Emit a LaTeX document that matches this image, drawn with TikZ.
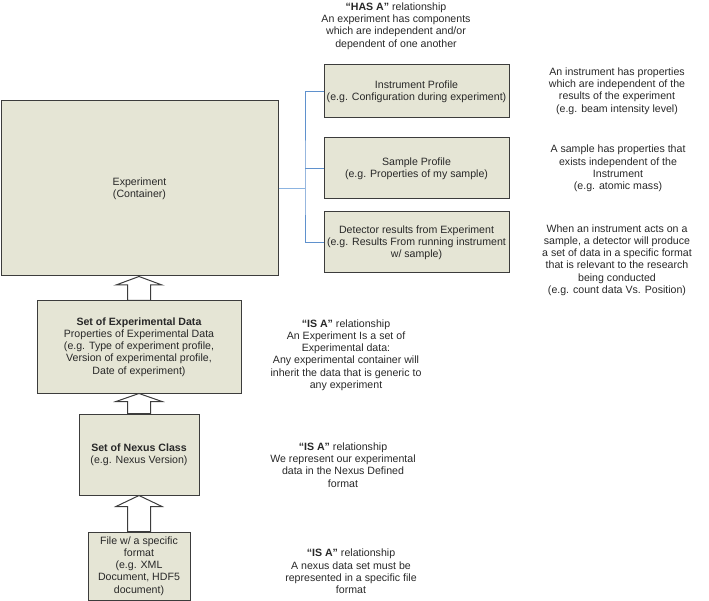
\documentclass[tikz,border=0pt]{standalone}
\usepackage{fontspec}
\setmainfont{Liberation Sans}
\usetikzlibrary{calc}
\definecolor{boxfill}{RGB}{229,229,213}
\definecolor{boxline}{RGB}{60,60,60}
\definecolor{linkblue}{RGB}{95,145,205}
\definecolor{stubblue}{RGB}{140,180,225}
\definecolor{textgray}{RGB}{40,40,40}
\tikzset{
  classbox/.style={draw=boxline, fill=boxfill, line width=1pt, inner sep=2pt, align=center, text=textgray},
  note/.style={align=center, inner sep=0pt, text=textgray},
  isarrow/.style={draw=boxline, fill=white, line width=1pt},
  hasline/.style={draw=linkblue, line width=0.8pt},
  hasstub/.style={draw=stubblue, line width=1.8pt},
}
% hollow "IS A" block arrow: upper node, lower node, head length
\newcommand\isaarrow[3]{%
  \draw[isarrow] (#2.north |- #1.south) -- ++(23,#3) -- ++(-11.5,0)
    -- ($(#2.north)+(11.5,0)$) -- ($(#2.north)+(-11.5,0)$)
    -- ($(#2.north |- #1.south)+(-11.5,#3)$) -- ++(-11.5,0) -- cycle;}

\begin{document}
\begin{tikzpicture}[x=1pt,y=-1pt,font=\fontsize{10.6}{12.2}\selectfont]
        \useasboundingbox (0,0) rectangle (709,601);
        %% container and its components
        \node[classbox, minimum width=277pt, minimum height=175pt] (expt) at (139.5,188.5) {Experiment\\(Container)};
        \node[classbox, minimum width=185pt, minimum height=53pt] (instr) at (416.5,91.5) {Instrument Profile\\(e.g. Configuration during experiment)};
        \node[classbox, minimum width=185pt, minimum height=61pt] (sample) at (416.5,168.5) {Sample Profile\\(e.g. Properties of my sample)};
        \node[classbox, minimum width=185pt, minimum height=61pt] (detect) at (416.5,242.5) {Detector results from Experiment\\(e.g. Results From running instrument\\w/ sample)};
        %% has-a links
        \coordinate (junction) at (305,188.5);
        \draw[hasstub] (expt.east) -- (junction);
        \draw[hasline] (instr.west) -| (junction) |- (detect.west);
        \draw[hasline] (sample.west) -- (sample.west -| junction);
        %% is-a chain
        \node[classbox, minimum width=204pt, minimum height=92pt] (setexp) at (139,347) {\textbf{Set of Experimental Data}\\Properties of Experimental Data\\(e.g. Type of experiment profile,\\Version of experimental profile,\\Date of experiment)};
        \node[classbox, minimum width=120pt, minimum height=81pt] (nexus) at (139,454.5) {\textbf{Set of Nexus Class}\\(e.g. Nexus Version)};
        \node[classbox, minimum width=102pt, minimum height=68pt] (file) at (139,566) {File w/ a specific\\format\\(e.g. XML\\Document, HDF5\\document)};
        \isaarrow{expt}{setexp}{8.5}
        \isaarrow{setexp}{nexus}{8}
        \isaarrow{nexus}{file}{11}
        %% notes
        \node[note] (hasnote) at (396,26) {\textbf{“HAS A”} relationship\\An experiment has components\\which are independent and/or\\dependent of one another};
        \node[note] (instrnote) at (617,91) {An instrument has properties\\which are independent of the\\results of the experiment\\(e.g. beam intensity level)};
        \node[note] (samplenote) at (618,168.5) {A sample has properties that\\exists independent of the\\Instrument\\(e.g. atomic mass)};
        \node[note] (detectnote) at (617,260) {When an instrument acts on a\\sample, a detector will produce\\a set of data in a specific format\\that is relevant to the research\\being conducted\\(e.g. count data Vs. Position)};
        \node[note] (setexpnote) at (346,355) {\textbf{“IS A”} relationship\\An Experiment Is a set of\\Experimental data:\\Any experimental container will\\inherit the data that is generic to\\any experiment};
        \node[note] (nexusnote) at (343,465) {\textbf{“IS A”} relationship\\We represent our experimental\\data in the Nexus Defined\\format};
        \node[note] (filenote) at (351,571.5) {\textbf{“IS A”} relationship\\A nexus data set must be\\represented in a specific file\\format};
\end{tikzpicture}
\end{document}
